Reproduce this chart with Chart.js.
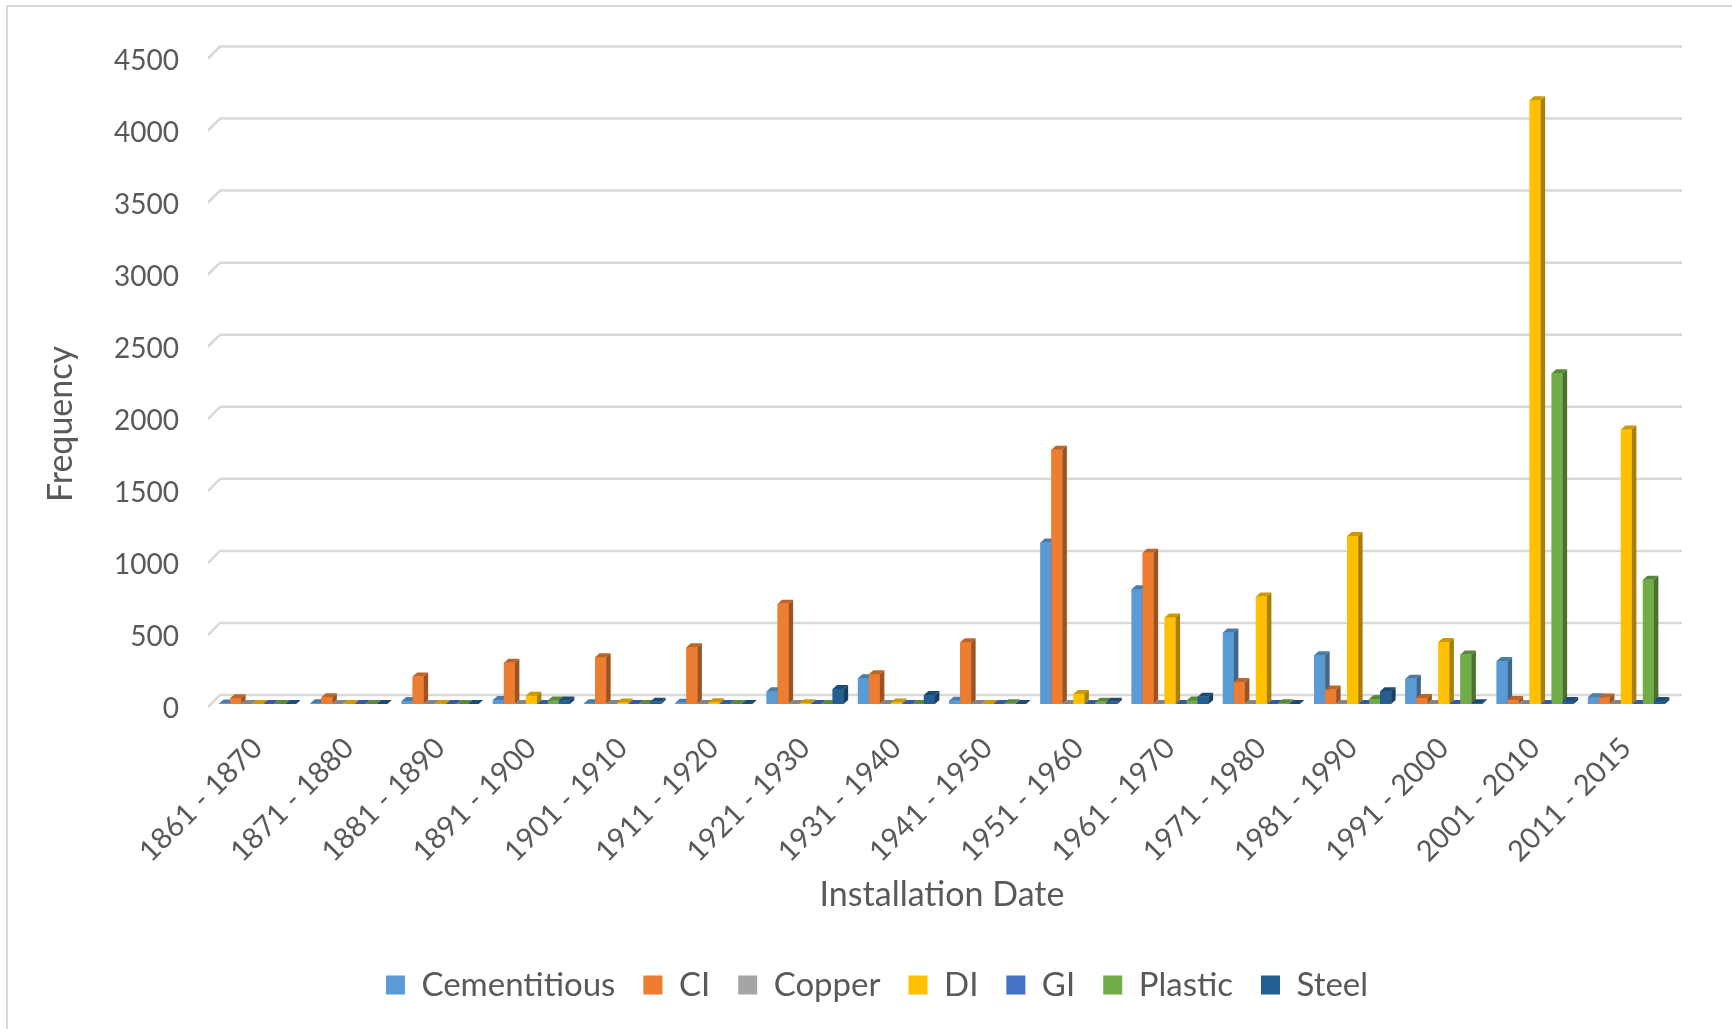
<!DOCTYPE html>
<html>
<head>
<meta charset="utf-8">
<title>Installation Date – Frequency by Material</title>
<script src="https://cdn.jsdelivr.net/npm/chart.js@4.4.1/dist/chart.umd.min.js"></script>
<style>
  html, body { margin: 0; padding: 0; background: #ffffff; }
  #wrap { width: 1732px; height: 1029px; position: relative; }
</style>
</head>
<body>
<div id="wrap"><canvas id="chart"></canvas></div>
<script>
// Installation periods (x categories)
const CATEGORIES = [
  '1861 - 1870', '1871 - 1880', '1881 - 1890', '1891 - 1900',
  '1901 - 1910', '1911 - 1920', '1921 - 1930', '1931 - 1940',
  '1941 - 1950', '1951 - 1960', '1961 - 1970', '1971 - 1980',
  '1981 - 1990', '1991 - 2000', '2001 - 2010', '2011 - 2015'
];

// Pipe counts per material
const CEMENTITIOUS = [4, 5, 20, 28, 6, 8, 88, 178, 23, 1120, 797, 497, 338, 175, 298, 47];
const CI           = [40, 46, 190, 287, 325, 394, 695, 206, 428, 1765, 1049, 152, 100, 42, 28, 45];
const COPPER       = [0, 0, 0, 0, 0, 0, 0, 0, 0, 0, 0, 0, 0, 0, 0, 0];
const DI           = [0, 0, 0, 58, 10, 12, 5, 10, 0, 70, 601, 746, 1166, 431, 4190, 1905];
const GI           = [0, 0, 0, 0, 0, 0, 0, 0, 0, 0, 0, 0, 0, 0, 0, 0];
const PLASTIC      = [0, 0, 0, 25, 0, 0, 0, 0, 5, 15, 25, 5, 35, 343, 2295, 862];
const STEEL        = [0, 0, 0, 25, 15, 0, 104, 63, 0, 15, 50, 0, 89, 5, 20, 20];

const SERIES_NAMES  = ['Cementitious', 'CI', 'Copper', 'DI', 'GI', 'Plastic', 'Steel'];
const SERIES_VALUES = [CEMENTITIOUS, CI, COPPER, DI, GI, PLASTIC, STEEL];
const SERIES_COLORS = ['#5B9BD5', '#ED7D31', '#A5A5A5', '#FFC000', '#4472C4', '#70AD47', '#255E91'];

// Value axis tick labels
const Y_TICKS = [0, 500, 1000, 1500, 2000, 2500, 3000, 3500, 4000, 4500];

const FONT = 'Lato, "Open Sans", "DejaVu Sans", sans-serif';
const TEXT = '#595959';
const GRID = '#D9D9D9';

// Oblique depth of each column (top and side faces)
const BAR_DX = 4.5, BAR_DY = 4;
// Offset of the back wall behind the column fronts
const WALL_DX = 8, WALL_DY = 9;

function shade(hex, f) {
  const n = parseInt(hex.slice(1), 16);
  const r = Math.round(((n >> 16) & 255) * f);
  const g = Math.round(((n >> 8) & 255) * f);
  const b = Math.round((n & 255) * f);
  return `rgb(${r},${g},${b})`;
}

// Outer frame, back-wall gridlines, 3-D column faces and the vertical axis title
const pseudo3d = {
  id: 'pseudo3d',
  beforeDraw(chart) {
    const { ctx } = chart;
    ctx.save();
    ctx.strokeStyle = GRID;
    ctx.lineWidth = 2;
    ctx.beginPath();
    ctx.moveTo(7, chart.height);
    ctx.lineTo(7, 6);
    ctx.lineTo(chart.width, 6);
    ctx.stroke();
    ctx.restore();
  },
  beforeDatasetsDraw(chart) {
    const { ctx, chartArea, scales: { y } } = chart;
    ctx.save();
    ctx.strokeStyle = GRID;
    ctx.lineWidth = 2.5;
    ctx.lineJoin = 'round';
    Y_TICKS.forEach(v => {
      const yb = y.getPixelForValue(v) - WALL_DY;
      ctx.beginPath();
      ctx.moveTo(chartArea.left - 4, yb + 12);
      ctx.lineTo(chartArea.left + WALL_DX, yb);
      ctx.lineTo(chartArea.right + 10, yb);
      ctx.stroke();
    });
    ctx.restore();
  },
  afterDatasetsDraw(chart) {
    const { ctx } = chart;
    const items = [];
    chart.data.datasets.forEach((ds, i) => {
      const meta = chart.getDatasetMeta(i);
      if (meta.hidden) return;
      meta.data.forEach(el => items.push({ el, color: ds.backgroundColor }));
    });
    items.sort((a, b) => a.el.x - b.el.x);
    ctx.save();
    items.forEach(({ el, color }) => {
      const { x, y, base, width } = el.getProps(['x', 'y', 'base', 'width'], true);
      const l = x - width / 2, r = x + width / 2;
      ctx.fillStyle = color;
      ctx.fillRect(l, y, width, base - y);
      ctx.fillStyle = shade(color, 0.8);
      ctx.beginPath();
      ctx.moveTo(l, y); ctx.lineTo(r, y);
      ctx.lineTo(r + BAR_DX, y - BAR_DY); ctx.lineTo(l + BAR_DX, y - BAR_DY);
      ctx.closePath(); ctx.fill();
      ctx.fillStyle = shade(color, 0.66);
      ctx.beginPath();
      ctx.moveTo(r, y); ctx.lineTo(r + BAR_DX, y - BAR_DY);
      ctx.lineTo(r + BAR_DX, base - BAR_DY); ctx.lineTo(r, base);
      ctx.closePath(); ctx.fill();
    });
    ctx.restore();
  },
  afterDraw(chart) {
    const { ctx } = chart;
    ctx.save();
    ctx.translate(61, 424);
    ctx.rotate(-Math.PI / 2);
    ctx.font = `34px ${FONT}`;
    ctx.fillStyle = TEXT;
    ctx.textAlign = 'center';
    ctx.textBaseline = 'middle';
    ctx.fillText('Frequency', 0, 0);
    ctx.restore();
  }
};

function build() {
  const datasets = SERIES_NAMES.map((name, i) => ({
    label: name,
    data: SERIES_VALUES[i],
    backgroundColor: SERIES_COLORS[i],
    borderWidth: 0
  }));

  new Chart(document.getElementById('chart'), {
    type: 'bar',
    data: { labels: CATEGORIES, datasets },
    plugins: [pseudo3d],
    options: {
      responsive: true,
      maintainAspectRatio: false,
      animation: false,
      events: [],
      layout: { padding: { left: 82, right: 60, top: 55.5, bottom: 17.5 } },
      datasets: { bar: { categoryPercentage: 0.844, barPercentage: 1 } },
      plugins: {
        tooltip: { enabled: false },
        legend: {
          position: 'bottom',
          labels: {
            font: { family: FONT, size: 33 },
            color: TEXT,
            boxWidth: 19,
            boxHeight: 19,
            padding: 28
          }
        }
      },
      scales: {
        x: {
          grid: { display: false, drawTicks: false },
          border: { display: false },
          ticks: {
            font: { family: FONT, size: 29 },
            color: TEXT,
            minRotation: 45,
            maxRotation: 45,
            autoSkip: false,
            padding: 27
          },
          title: {
            display: true,
            text: 'Installation Date',
            font: { family: FONT, size: 34 },
            color: TEXT,
            padding: { top: 0, bottom: 25 }
          },
          afterFit(scale) { scale.height = 236.5; }
        },
        y: {
          min: 0,
          max: 4500,
          grid: { display: false, drawTicks: false },
          border: { display: false },
          afterBuildTicks(scale) { scale.ticks = Y_TICKS.map(v => ({ value: v })); },
          ticks: {
            font: { family: FONT, size: 28, lineHeight: 0.36 },
            color: TEXT,
            padding: 33,
            callback: (v) => ['', String(v)]
          },
          afterFit(scale) { scale.width = 130; }
        }
      }
    }
  });
}

if (document.fonts && document.fonts.load) {
  Promise.all([
    document.fonts.load('28px Lato'),
    document.fonts.load('34px Lato')
  ]).then(build, build);
} else {
  build();
}
</script>
</body>
</html>
